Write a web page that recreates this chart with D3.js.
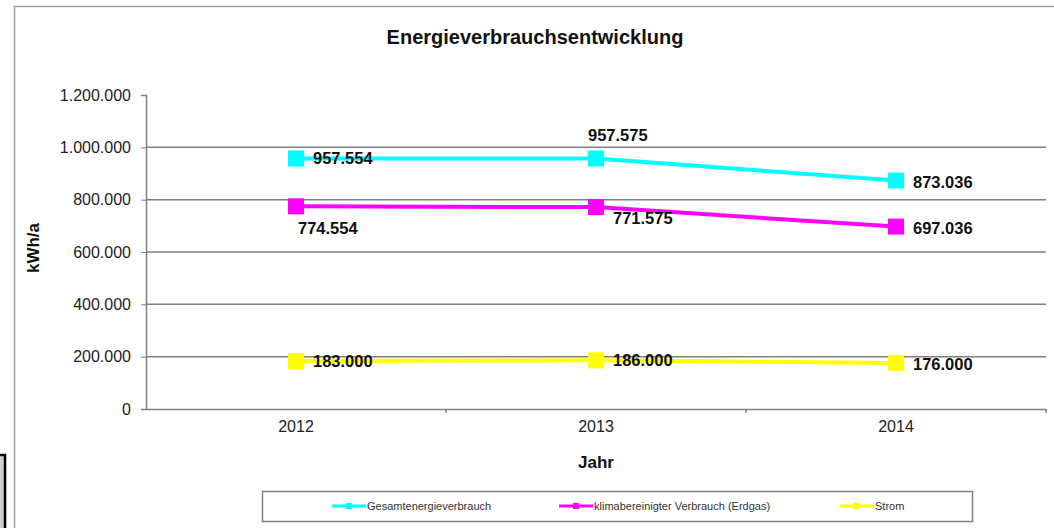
<!DOCTYPE html>
<html>
<head>
<meta charset="utf-8">
<script src="https://cdn.jsdelivr.net/npm/d3@7"></script>
<style>
  body { margin: 0; background: #fff; }
  svg { display: block; font-family: Arial, "Liberation Sans", sans-serif; }
  .axis path, .axis line { stroke: #808080; }
  .axis text { font-size: 16px; fill: #222; }
</style>
</head>
<body>
<div id="chart-area"></div>
<script>
// chart data
const years = ['2012', '2013', '2014'];
const gesamt = [957554, 957575, 873036];
const klima = [774554, 771575, 697036];
const strom = [183000, 186000, 176000];
const yTicks = [0, 200000, 400000, 600000, 800000, 1000000, 1200000];
const seriesNames = ['Gesamtenergieverbrauch', 'klimabereinigter Verbrauch (Erdgas)', 'Strom'];

const W = 1054, H = 528;
const margin = { left: 146, top: 95, right: 8, bottom: 119 };
const width = 900;
const height = 314;

const svg = d3.select('#chart-area').append('svg')
  .attr('width', W).attr('height', H);

// outer chart frame
svg.append('rect')
  .attr('x', 14.5).attr('y', 6.5).attr('width', 1100).attr('height', 600)
  .attr('fill', 'none').attr('stroke', '#a0a0a0').attr('stroke-width', 1.5);

// small black box at the bottom left edge
svg.append('rect')
  .attr('x', -4).attr('y', 455).attr('width', 9).attr('height', 90)
  .attr('fill', '#d0d0d0').attr('stroke', '#000').attr('stroke-width', 2.5);

// title
svg.append('text')
  .attr('x', 535).attr('y', 44)
  .attr('text-anchor', 'middle')
  .attr('font-size', '20px').attr('font-weight', 'bold').attr('fill', '#111')
  .text('Energieverbrauchsentwicklung');

const g = svg.append('g')
  .attr('transform', 'translate(' + margin.left + ',' + margin.top + ')');

const x = d3.scaleBand().domain(years).range([0, width]);
const y = d3.scaleLinear().domain([0, 1200000]).range([height, 0]);

// gridlines
g.append('g')
  .selectAll('line')
  .data(yTicks.filter(d => d > 0 && d < 1200000))
  .enter().append('line')
  .attr('x1', 0).attr('x2', width)
  .attr('y1', d => y(d)).attr('y2', d => y(d))
  .attr('stroke', '#808080').attr('stroke-width', 1.5);

// y axis
const fmt = d => d3.format(',')(d).replace(/,/g, '.');
const yAxis = g.append('g').attr('class', 'axis')
  .call(d3.axisLeft(y).tickValues(yTicks).tickFormat(fmt).tickSize(5).tickPadding(10));
yAxis.select('.domain').attr('stroke-width', 1.5);

// x axis
const xAxis = g.append('g').attr('class', 'axis')
  .attr('transform', 'translate(0,' + height + ')')
  .call(d3.axisBottom(x).tickSize(0).tickPadding(12));
xAxis.select('.domain').attr('stroke-width', 1.5);
// ticks between categories
xAxis.selectAll('.between')
  .data(years)
  .enter().append('line')
  .attr('x1', (d, i) => (i + 1) * x.step()).attr('x2', (d, i) => (i + 1) * x.step())
  .attr('y1', 0).attr('y2', 4)
  .attr('stroke', '#808080').attr('stroke-width', 1.5);

// axis titles
g.append('text')
  .attr('x', width / 2).attr('y', height + 59)
  .attr('text-anchor', 'middle')
  .attr('font-size', '17px').attr('font-weight', 'bold').attr('fill', '#111')
  .text('Jahr');

g.append('text')
  .attr('transform', 'rotate(-90)')
  .attr('x', -(height / 2) + 4).attr('y', -107)
  .attr('text-anchor', 'middle')
  .attr('font-size', '17px').attr('font-weight', 'bold').attr('fill', '#111')
  .text('kWh/a');

// series
const series = [
  { name: seriesNames[0], values: gesamt, color: '#00ffff',
    labels: [[17, 6], [-8, -17], [17, 7]] },
  { name: seriesNames[1], values: klima, color: '#ff00ff',
    labels: [[2, 28], [17, 17], [17, 7]] },
  { name: seriesNames[2], values: strom, color: '#ffff00',
    labels: [[17, 6], [17, 6], [17, 7]] }
];

const cx = d => x(d) + x.bandwidth() / 2;
const line = d3.line()
  .x((d, i) => cx(years[i]))
  .y(d => y(d));

series.forEach(s => {
  g.append('path')
    .datum(s.values)
    .attr('d', line)
    .attr('fill', 'none')
    .attr('stroke', s.color)
    .attr('stroke-width', 4);

  g.selectAll(null)
    .data(s.values)
    .enter().append('rect')
    .attr('x', (d, i) => cx(years[i]) - 8)
    .attr('y', d => y(d) - 8)
    .attr('width', 16).attr('height', 16)
    .attr('fill', s.color);

  g.selectAll(null)
    .data(s.values)
    .enter().append('text')
    .attr('x', (d, i) => cx(years[i]) + s.labels[i][0])
    .attr('y', (d, i) => y(d) + s.labels[i][1])
    .attr('font-size', '16.5px').attr('font-weight', 'bold').attr('fill', '#111')
    .text(d => fmt(d));
});

// legend
const legend = svg.append('g');
legend.append('rect')
  .attr('x', 262.5).attr('y', 491.5).attr('width', 710).attr('height', 30)
  .attr('fill', '#fff').attr('stroke', '#808080').attr('stroke-width', 1.5);

const legendX = [332, 559, 840];
series.forEach((s, i) => {
  const lg = legend.append('g').attr('transform', 'translate(' + legendX[i] + ',506)');
  lg.append('line').attr('x1', 0).attr('x2', 34).attr('y1', 0).attr('y2', 0)
    .attr('stroke', s.color).attr('stroke-width', 3);
  lg.append('rect').attr('x', 14).attr('y', -3).attr('width', 6).attr('height', 6)
    .attr('fill', s.color);
  lg.append('text').attr('x', 35).attr('y', 4)
    .attr('font-size', '11px').attr('fill', '#333')
    .text(s.name);
});
</script>
</body>
</html>
